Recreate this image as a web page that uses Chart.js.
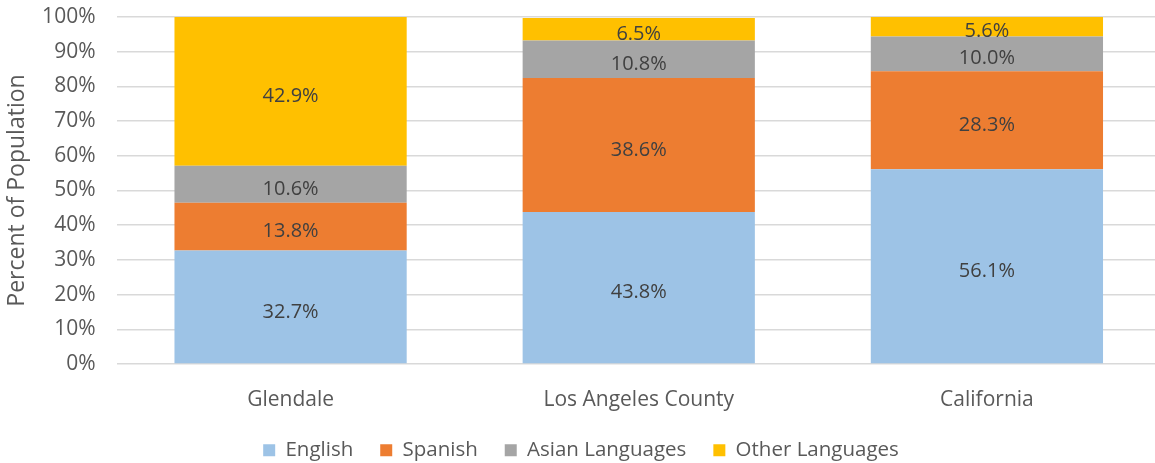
<!DOCTYPE html>
<html>
<head>
<meta charset="utf-8">
<script src="https://cdn.jsdelivr.net/npm/chart.js@4.4.0/dist/chart.umd.min.js"></script>
<style>
  html, body { margin: 0; padding: 0; background: #fff; overflow: hidden; }
  #wrap { width: 1161px; height: 463px; }
</style>
</head>
<body>
<div id="wrap"><canvas id="myChart1" width="1161" height="463"></canvas></div>
<script>
var places = ["Glendale", "Los Angeles County", "California"];
var english = [32.7, 43.8, 56.1];
var spanish = [13.8, 38.6, 28.3];
var asian = [10.6, 10.8, 10.0];
var other = [42.9, 6.5, 5.6];
var yTicks = [0, 10, 20, 30, 40, 50, 60, 70, 80, 90, 100];

var FONT = 'Open Sans';

// value in the middle of each segment
var centerLabels = {
  id: 'centerLabels',
  afterDatasetsDraw: function (chart) {
    var ctx = chart.ctx;
    ctx.save();
    ctx.font = '20px "' + FONT + '"';
    ctx.fillStyle = '#404040';
    ctx.textAlign = 'center';
    ctx.textBaseline = 'middle';
    chart.data.datasets.forEach(function (ds, i) {
      chart.getDatasetMeta(i).data.forEach(function (bar, j) {
        var p = bar.getCenterPoint();
        ctx.fillText(ds.data[j].toFixed(1) + '%', p.x, p.y + 5);
      });
    });
    ctx.restore();
  }
};

// keep the legend close to the axis labels while keeping wide gaps between items
var legendSpace = {
  id: 'legendSpace',
  beforeInit: function (chart) {
    var fit = chart.legend.fit;
    chart.legend.fit = function () {
      fit.bind(chart.legend)();
      this.height = 51;
    };
  },
  afterLayout: function (chart) {
    chart.legend.top += 1;
  }
};

Chart.defaults.font.family = FONT;
Chart.defaults.color = '#595959';

var ctx = document.getElementById('myChart1').getContext('2d');
var myChart = new Chart(ctx, {
  type: 'bar',
  data: {
    labels: places,
    datasets: [
      { label: "English", data: english, backgroundColor: "#9DC3E6" },
      { label: "Spanish", data: spanish, backgroundColor: "#ED7D31" },
      { label: "Asian Languages", data: asian, backgroundColor: "#A5A5A5" },
      { label: "Other Languages", data: other, backgroundColor: "#FFC000" }
    ]
  },
  options: {
    responsive: false,
    animation: false,
    datasets: { bar: { categoryPercentage: 1, barPercentage: 0.667 } },
    layout: { padding: { top: 17, left: 1, right: 0, bottom: 0 } },
    plugins: {
      tooltip: { enabled: false },
      legend: {
        position: 'bottom',
        labels: { boxWidth: 12, boxHeight: 12, padding: 27, font: { size: 20.5 }, color: '#595959' }
      }
    },
    scales: {
      x: {
        stacked: true,
        grid: { display: false, drawTicks: false },
        border: { display: false },
        ticks: { font: { size: 21 }, padding: 23 },
        afterFit: function (axis) { axis.height = 48; }
      },
      y: {
        stacked: true,
        min: 0,
        max: 100,
        afterBuildTicks: function (axis) {
          axis.ticks = yTicks.map(function (v) { return { value: v }; });
        },
        afterFit: function (axis) {
          axis.width = 115.5;
          axis.paddingTop = 0;
          axis.paddingBottom = 0;
        },
        grid: { color: '#D9D9D9', lineWidth: 1.5, drawTicks: false },
        border: { display: false },
        ticks: { font: { size: 21 }, padding: 21, callback: function (v) { return v + '%'; } },
        title: { display: true, text: 'Percent of Population', font: { size: 23 }, color: '#595959', padding: { top: 3, bottom: 8 } }
      }
    }
  },
  plugins: [centerLabels, legendSpace]
});
</script>
</body>
</html>
